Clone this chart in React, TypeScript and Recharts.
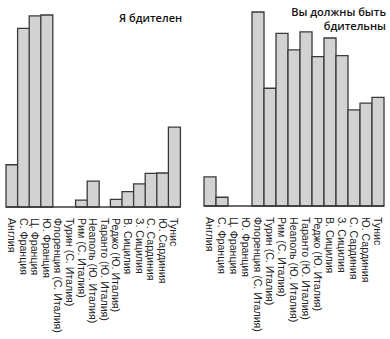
import React from "react";
import { BarChart, Bar, XAxis, YAxis } from "recharts";

const categories = [
  "Англия",
  "С. Франция",
  "Ц. Франция",
  "Ю. Франция",
  "Флоренция (С. Италия)",
  "Турин (С. Италия)",
  "Рим (С. Италия)",
  "Неаполь (Ю. Италия)",
  "Таранто (Ю. Италия)",
  "Реджо (Ю. Италия)",
  "В. Сицилия",
  "З. Сицилия",
  "С. Сардиния",
  "Ю. Сардиния",
  "Тунис",
];

const iAmVigilant = [22, 93, 99.5, 100, 0, 0, 3.6, 13.5, 0, 4, 8, 12, 17.5, 17.7, 41.6];
const youMustBeVigilant = [15, 4.5, 0, 0, 100, 60.7, 89, 80.5, 89.8, 77, 86.6, 77.5, 49.5, 53, 56];

const leftTitle = "Я бдителен";
const rightTitle = ["Вы должны быть", "бдительны"];

const leftData = categories.map((name, i) => ({ name, value: iAmVigilant[i] }));
const rightData = categories.map((name, i) => ({ name, value: youMustBeVigilant[i] }));

const STROKE = "#3a3a3a";
const FILL = "#d2d2d2";
const LABEL_FONT = "'Liberation Sans', Arial, sans-serif";
const TITLE_FONT = "'Open Sans', sans-serif";

const RotatedTick = (props: any) => {
  const { x, y, payload } = props;
  return (
    <g transform={`translate(${x},${y + 3}) rotate(90)`}>
      <text
        x={0}
        y={0}
        dy="0.35em"
        textAnchor="start"
        fontSize={10.6}
        fontFamily={LABEL_FONT}
        fill="#222"
      >
        {payload.value}
      </text>
    </g>
  );
};

function Panel({
  data,
  margin,
  axisHeight,
}: {
  data: { name: string; value: number }[];
  margin: { top: number; right: number; left: number; bottom: number };
  axisHeight: number;
}) {
  return (
    <BarChart width={195} height={339} data={data} margin={margin} barCategoryGap={0} barGap={0}>
      <XAxis
        dataKey="name"
        interval={0}
        height={axisHeight}
        tickLine={false}
        axisLine={{ stroke: STROKE, strokeWidth: 1.5 }}
        tick={<RotatedTick />}
      />
      <YAxis
        width={0}
        domain={[0, 100]}
        tick={false}
        tickLine={false}
        axisLine={{ stroke: STROKE, strokeWidth: 1.5 }}
      />
      <Bar dataKey="value" fill={FILL} stroke={STROKE} strokeWidth={1.3} isAnimationActive={false} />
    </BarChart>
  );
}

export default function App() {
  return (
    <div
      style={{
        position: "absolute",
        left: 0,
        top: 0,
        width: 390,
        height: 339,
        background: "#fff",
        overflow: "hidden",
      }}
    >
      <div style={{ position: "absolute", left: 0, top: 0 }}>
        <Panel data={leftData} margin={{ top: 15, right: 15, left: 6, bottom: 0 }} axisHeight={132} />
      </div>
      <div style={{ position: "absolute", left: 195, top: 0 }}>
        <Panel data={rightData} margin={{ top: 12, right: 6, left: 9, bottom: 0 }} axisHeight={133} />
      </div>
      <svg
        width={390}
        height={40}
        style={{ position: "absolute", left: 0, top: 0, pointerEvents: "none" }}
      >
        <text x={119} y={22} fontSize={11} fontWeight={600} fontFamily={TITLE_FONT} fill="#111">
          {leftTitle}
        </text>
        <text x={386} y={16} textAnchor="end" fontSize={11} fontWeight={600} fontFamily={TITLE_FONT} fill="#111">
          {rightTitle[0]}
        </text>
        <text x={386} y={30} textAnchor="end" fontSize={11} fontWeight={600} fontFamily={TITLE_FONT} fill="#111">
          {rightTitle[1]}
        </text>
      </svg>
    </div>
  );
}
